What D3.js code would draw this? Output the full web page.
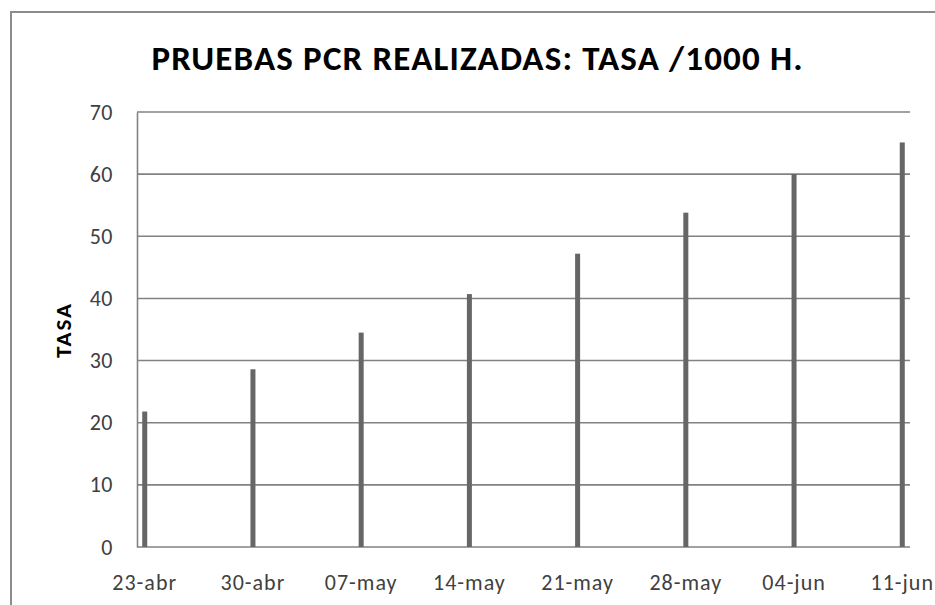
<!DOCTYPE html>
<html>
<head>
<meta charset="utf-8">
<script src="https://cdn.jsdelivr.net/npm/d3@7"></script>
<style>
  body { margin: 0; background: #fff; }
  text { font-family: Carlito, Calibri, Lato, "Open Sans", sans-serif; }
</style>
</head>
<body>
<div id="chart"></div>
<script>
(function () {
  const dates = ['2020-04-23', '2020-04-30', '2020-05-07', '2020-05-14',
                 '2020-05-21', '2020-05-28', '2020-06-04', '2020-06-11'];
  const tickLabels = ['23-abr', '30-abr', '07-may', '14-may',
                      '21-may', '28-may', '04-jun', '11-jun'];
  const tasa = [21.8, 28.6, 34.5, 40.7, 47.2, 53.8, 60.0, 65.1];
  const yTicks = [0, 10, 20, 30, 40, 50, 60, 70];

  const W = 935, H = 605;
  const margin = { top: 112, right: 25, bottom: 58, left: 137 };

  const parse = d3.utcParse('%Y-%m-%d');
  const days = dates.map(parse);
  const DAY = 864e5;

  const svg = d3.select('#chart').append('svg')
    .attr('width', W).attr('height', H);

  // outer chart border
  svg.append('rect')
    .attr('x', 11).attr('y', 12)
    .attr('width', W + 20).attr('height', H + 20)
    .attr('fill', 'none')
    .attr('stroke', '#8c8c8c')
    .attr('stroke-width', 2);

  // date axis: one slot per day, bars centred in slot
  var x = d3.scaleUtc()
    .domain([days[0], new Date(+days[days.length - 1] + DAY)])
    .range([margin.left, W - margin.right]);
  var xc = function (d) { return x(new Date(+d + DAY / 2)); };

  var y = d3.scaleLinear()
    .domain([0, 70])
    .range([H - margin.bottom, margin.top]);

  // gridlines
  svg.append('g')
    .selectAll('line')
    .data(yTicks)
    .join('line')
    .attr('x1', margin.left)
    .attr('x2', W - margin.right)
    .attr('y1', function (d) { return y(d); })
    .attr('y2', function (d) { return y(d); })
    .attr('stroke', '#828282')
    .attr('stroke-width', 1.6);

  // y axis
  var yAxis = svg.append('g')
    .attr('transform', 'translate(' + margin.left + ',0)')
    .call(d3.axisLeft(y).tickValues(yTicks).tickSize(0).tickPadding(24));
  yAxis.select('.domain').attr('stroke', '#828282').attr('stroke-width', 1.6);
  yAxis.selectAll('text')
    .attr('font-size', 22)
    .attr('letter-spacing', 0.5)
    .attr('fill', '#404040')
    .style('font-family', 'Carlito, Calibri, Lato, sans-serif');

  // x axis
  var xAxis = svg.append('g')
    .attr('transform', 'translate(0,' + y(0) + ')')
    .call(d3.axisBottom(x).tickValues([]).tickSize(0));
  xAxis.select('.domain').remove();
  xAxis.selectAll('.lbl')
    .data(days)
    .join('text')
    .attr('class', 'lbl')
    .attr('x', xc)
    .attr('y', 43)
    .attr('text-anchor', 'middle')
    .attr('font-size', 22)
    .attr('letter-spacing', 1)
    .attr('fill', '#404040')
    .text(function (d, i) { return tickLabels[i]; });

  // bars
  svg.append('g')
    .selectAll('rect')
    .data(tasa)
    .join('rect')
    .attr('x', function (d, i) { return xc(days[i]) - 2.5; })
    .attr('width', 5)
    .attr('y', function (d) { return y(d); })
    .attr('height', function (d) { return y(0) - y(d); })
    .attr('fill', '#666666');

  // title
  svg.append('text')
    .attr('x', 477)
    .attr('y', 70)
    .attr('text-anchor', 'middle')
    .attr('font-size', 35)
    .attr('font-weight', 'bold')
    .attr('textLength', 651)
    .attr('lengthAdjust', 'spacing')
    .attr('fill', '#000')
    .text('PRUEBAS PCR REALIZADAS: TASA /1000 H.');

  // y label
  svg.append('text')
    .attr('transform', 'translate(71,330) rotate(-90)')
    .attr('text-anchor', 'middle')
    .attr('font-size', 23)
    .attr('font-weight', 'bold')
    .attr('letter-spacing', 2)
    .attr('fill', '#000')
    .text('TASA');
})();
</script>
</body>
</html>
